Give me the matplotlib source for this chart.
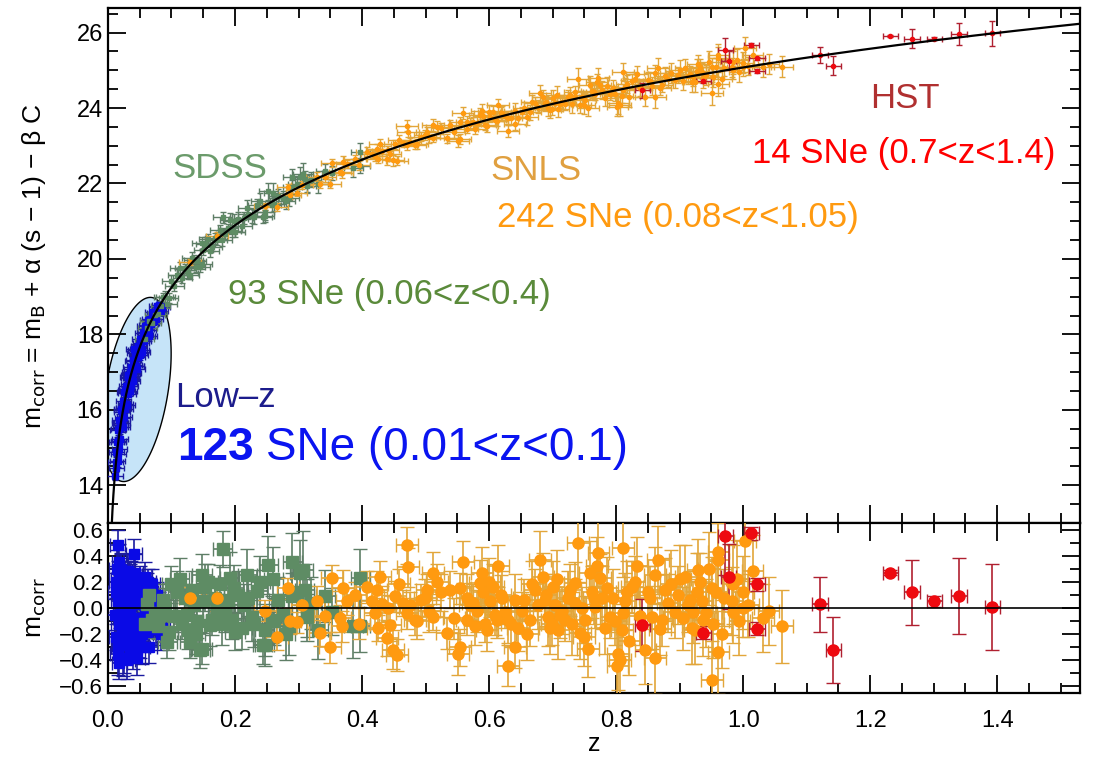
import numpy as np
import matplotlib.pyplot as plt
from matplotlib.patches import Polygon

plt.rcParams['font.family'] = ['Liberation Sans', 'DejaVu Sans']

# residuals (z, m_corr - model, error)
lowz_z = [0.011, 0.012, 0.013, 0.014, 0.015, 0.015, 0.016, 0.017, 0.017, 0.018,
          0.019, 0.019, 0.020, 0.021, 0.022, 0.022, 0.023, 0.024, 0.025, 0.026,
          0.027, 0.028, 0.029, 0.030, 0.031, 0.032, 0.033, 0.034, 0.035, 0.036,
          0.037, 0.038, 0.039, 0.040, 0.041, 0.042, 0.043, 0.044, 0.045, 0.046,
          0.048, 0.049, 0.050, 0.051, 0.052, 0.054, 0.055, 0.056, 0.058, 0.059,
          0.060, 0.062, 0.063, 0.065, 0.066, 0.068, 0.070, 0.072, 0.073, 0.075,
          0.077, 0.079, 0.081, 0.083, 0.085,
          0.013, 0.016, 0.018, 0.020, 0.021, 0.023, 0.024, 0.026, 0.027, 0.028,
          0.029, 0.031, 0.032, 0.033, 0.034, 0.035, 0.036, 0.038, 0.039, 0.040,
          0.042, 0.044, 0.046, 0.047, 0.049, 0.053, 0.057, 0.061, 0.064, 0.067]
lowz_r = [-0.05, 0.12, -0.22, 0.30, 0.48, -0.35, 0.05, -0.12, 0.22, -0.42,
          0.15, -0.28, 0.02, 0.26, -0.18, 0.10, -0.38, 0.20, -0.06, 0.28,
          -0.25, 0.08, 0.18, -0.40, -0.10, 0.25, 0.12, -0.30, -0.02, 0.22,
          -0.15, 0.05, -0.34, 0.15, 0.41, -0.08, 0.27, -0.20, 0.06, -0.38,
          0.12, -0.12, 0.22, -0.26, 0.03, -0.30, 0.16, -0.10, 0.24, -0.04,
          0.08, -0.18, 0.20, -0.30, 0.12, -0.06, 0.18, -0.12, 0.05, -0.16,
          0.10, -0.08, 0.02, -0.20, -0.15,
          0.20, -0.30, 0.35, -0.08, 0.30, -0.15, 0.02, -0.38, 0.25, -0.20,
          0.12, 0.28, -0.25, -0.05, 0.22, 0.10, -0.28, -0.10, 0.18, -0.18,
          0.25, -0.22, 0.14, -0.12, 0.05, -0.20, 0.10, 0.15, -0.10, -0.05]
lowz_e = [0.12, 0.15, 0.10, 0.14, 0.12, 0.16, 0.10, 0.12, 0.14, 0.12,
          0.10, 0.13, 0.11, 0.15, 0.12, 0.10, 0.14, 0.12, 0.10, 0.13,
          0.12, 0.10, 0.11, 0.14, 0.12, 0.13, 0.10, 0.12, 0.11, 0.14,
          0.10, 0.12, 0.13, 0.11, 0.12, 0.10, 0.14, 0.12, 0.10, 0.13,
          0.11, 0.12, 0.10, 0.12, 0.11, 0.13, 0.10, 0.12, 0.11, 0.10,
          0.12, 0.11, 0.10, 0.12, 0.11, 0.10, 0.12, 0.11, 0.10, 0.12,
          0.10, 0.11, 0.10, 0.12, 0.11,
          0.12, 0.10, 0.14, 0.11, 0.12, 0.10, 0.13, 0.12, 0.11, 0.10,
          0.12, 0.13, 0.11, 0.10, 0.12, 0.11, 0.13, 0.10, 0.12, 0.11,
          0.10, 0.12, 0.11, 0.10, 0.12, 0.11, 0.10, 0.12, 0.11, 0.10]

sdss_z = [0.058, 0.062, 0.069, 0.074, 0.083, 0.090, 0.093, 0.100, 0.109, 0.117,
          0.121, 0.126, 0.129, 0.135, 0.140, 0.145, 0.148, 0.148, 0.153, 0.158,
          0.164, 0.168, 0.172, 0.180, 0.181, 0.189, 0.192, 0.195, 0.200, 0.205,
          0.211, 0.219, 0.220, 0.227, 0.235, 0.244, 0.247, 0.247, 0.252, 0.258,
          0.260, 0.268, 0.275, 0.280, 0.290, 0.290, 0.302, 0.307, 0.310, 0.313,
          0.313, 0.320, 0.331, 0.342, 0.352, 0.386, 0.397, 0.397,
          0.065, 0.078, 0.087, 0.096, 0.104, 0.113, 0.124, 0.132, 0.138, 0.150,
          0.160, 0.176, 0.185, 0.198, 0.214, 0.230, 0.240, 0.262, 0.285, 0.298]
sdss_r = [-0.12, 0.03, -0.09, -0.04, -0.05, 0.00, -0.26, 0.18, 0.12, -0.12,
          0.08, -0.17, -0.26, 0.02, -0.10, -0.32, 0.25, -0.31, 0.16, 0.20,
          -0.09, 0.08, -0.02, -0.12, 0.45, 0.06, 0.23, -0.09, -0.18, 0.10,
          -0.15, 0.25, 0.08, -0.07, 0.13, -0.28, -0.17, -0.28, 0.33, -0.09,
          0.22, 0.06, -0.05, -0.20, 0.35, 0.09, 0.27, 0.29, 0.14, 0.00,
          -0.07, 0.04, -0.17, 0.09, -0.03, -0.14, 0.23, -0.14,
          0.10, -0.14, 0.06, -0.18, -0.06, 0.22, -0.05, 0.14, -0.20, 0.05,
          -0.13, 0.18, -0.04, 0.15, 0.02, -0.12, 0.20, -0.10, -0.14, 0.12]
sdss_e = [0.10, 0.12, 0.14, 0.10, 0.12, 0.15, 0.12, 0.14, 0.16, 0.12,
          0.10, 0.14, 0.12, 0.15, 0.13, 0.14, 0.16, 0.12, 0.18, 0.14,
          0.12, 0.15, 0.13, 0.16, 0.14, 0.12, 0.20, 0.15, 0.14, 0.18,
          0.16, 0.20, 0.14, 0.18, 0.16, 0.15, 0.20, 0.16, 0.22, 0.18,
          0.25, 0.18, 0.16, 0.20, 0.22, 0.18, 0.25, 0.30, 0.20, 0.22,
          0.18, 0.20, 0.22, 0.20, 0.18, 0.24, 0.22, 0.20,
          0.12, 0.10, 0.12, 0.14, 0.12, 0.16, 0.12, 0.14, 0.15, 0.14,
          0.16, 0.15, 0.14, 0.18, 0.16, 0.18, 0.20, 0.18, 0.22, 0.20]

snls_z = [0.129, 0.172, 0.247, 0.266, 0.283, 0.287, 0.297, 0.329, 0.334, 0.350,
          0.353, 0.365, 0.368, 0.370, 0.376, 0.408, 0.415, 0.420, 0.423, 0.425,
          0.428, 0.439, 0.441, 0.444, 0.449, 0.452, 0.455, 0.465, 0.471, 0.471,
          0.472, 0.476, 0.483, 0.499, 0.502, 0.512, 0.512, 0.518, 0.534, 0.539,
          0.551, 0.554, 0.554, 0.559, 0.565, 0.565, 0.575, 0.581, 0.586, 0.589,
          0.591, 0.594, 0.597, 0.602, 0.606, 0.613, 0.614, 0.620, 0.625, 0.630,
          0.630, 0.641, 0.641, 0.646, 0.652, 0.665, 0.668, 0.672, 0.680, 0.685,
          0.688, 0.693, 0.699, 0.701, 0.704, 0.709, 0.715, 0.720, 0.724, 0.731,
          0.735, 0.735, 0.740, 0.743, 0.751, 0.756, 0.759, 0.762, 0.767, 0.770,
          0.772, 0.775, 0.778, 0.783, 0.791, 0.795, 0.802, 0.803, 0.806, 0.809,
          0.811, 0.811, 0.817, 0.825, 0.833, 0.846, 0.850, 0.857, 0.861, 0.861,
          0.866, 0.872, 0.877, 0.882, 0.893, 0.901, 0.909, 0.917, 0.920, 0.921,
          0.924, 0.927, 0.929, 0.932, 0.935, 0.937, 0.951, 0.951, 0.953, 0.961,
          0.961, 0.961, 0.983, 0.984, 0.984, 1.000, 1.000, 1.003, 1.031, 1.061,
          0.305, 0.342, 0.389, 0.395, 0.432, 0.458, 0.487, 0.493, 0.505, 0.525,
          0.545, 0.570, 0.578, 0.600, 0.610, 0.618, 0.635, 0.655, 0.660, 0.677,
          0.690, 0.696, 0.707, 0.712, 0.727, 0.746, 0.749, 0.765, 0.786, 0.798,
          0.814, 0.820, 0.829, 0.838, 0.853, 0.869, 0.886, 0.897, 0.905, 0.913,
          0.942, 0.946, 0.958, 0.966, 0.970, 0.990, 0.994, 1.008, 1.015, 1.040]
snls_r = [0.08, 0.08, -0.02, -0.22, 0.15, -0.10, -0.11, 0.05, -0.19, -0.30,
          0.23, -0.08, -0.14, 0.15, 0.05, 0.16, 0.05, -0.04, 0.14, -0.15,
          0.24, -0.23, 0.00, -0.13, -0.32, 0.09, -0.36, 0.04, 0.48, -0.04,
          0.31, 0.02, -0.09, 0.08, 0.14, -0.07, 0.27, 0.20, -0.19, 0.14,
          -0.35, 0.15, -0.30, 0.35, 0.08, -0.09, 0.04, -0.02, 0.19, 0.27,
          0.12, -0.12, -0.17, 0.05, 0.16, -0.09, 0.32, 0.08, -0.03, -0.09,
          -0.44, 0.06, -0.30, -0.15, -0.02, -0.09, 0.18, 0.14, 0.37, 0.24,
          0.06, -0.07, -0.12, 0.16, 0.02, -0.17, -0.02, -0.09, 0.08, -0.12,
          0.04, 0.19, 0.50, -0.19, -0.09, -0.31, 0.27, 0.12, 0.01, 0.32,
          0.42, 0.23, 0.08, -0.15, -0.07, 0.08, -0.44, -0.35, -0.40, -0.17,
          0.46, -0.04, 0.12, 0.16, 0.32, -0.32, 0.12, -0.07, -0.38, 0.25,
          0.37, -0.09, 0.14, 0.04, -0.03, 0.22, 0.24, 0.06, -0.15, -0.03,
          -0.17, 0.12, 0.29, 0.20, 0.05, -0.09, 0.15, -0.55, -0.12, 0.43,
          0.37, -0.34, 0.05, 0.18, -0.03, 0.12, 0.00, 0.51, -0.08, -0.14,
          0.02, -0.06, 0.10, -0.12, 0.03, 0.18, -0.10, 0.06, -0.02, 0.12,
          -0.08, 0.02, -0.14, 0.20, -0.05, 0.10, -0.12, 0.06, -0.20, 0.02,
          0.10, -0.15, 0.22, -0.05, 0.14, 0.00, -0.22, 0.08, 0.15, -0.10,
          0.05, -0.25, 0.20, -0.06, 0.08, -0.16, 0.18, 0.10, -0.08, 0.02,
          -0.04, 0.30, 0.12, -0.20, 0.08, 0.22, -0.10, 0.02, 0.28, -0.02]
snls_e = [0.08, 0.10, 0.08, 0.10, 0.08, 0.10, 0.08, 0.12, 0.10, 0.12,
          0.10, 0.10, 0.12, 0.14, 0.10, 0.12, 0.10, 0.12, 0.14, 0.10,
          0.12, 0.14, 0.10, 0.12, 0.15, 0.12, 0.12, 0.10, 0.14, 0.12,
          0.15, 0.10, 0.12, 0.14, 0.12, 0.10, 0.16, 0.14, 0.12, 0.14,
          0.16, 0.12, 0.14, 0.16, 0.18, 0.12, 0.14, 0.16, 0.18, 0.20,
          0.15, 0.14, 0.16, 0.12, 0.18, 0.14, 0.16, 0.20, 0.12, 0.18,
          0.16, 0.20, 0.16, 0.18, 0.14, 0.20, 0.18, 0.16, 0.22, 0.18,
          0.20, 0.22, 0.16, 0.20, 0.14, 0.22, 0.18, 0.16, 0.20, 0.24,
          0.18, 0.16, 0.30, 0.20, 0.18, 0.22, 0.24, 0.20, 0.16, 0.22,
          0.26, 0.18, 0.24, 0.20, 0.16, 0.22, 0.26, 0.28, 0.30, 0.20,
          0.22, 0.18, 0.24, 0.20, 0.22, 0.26, 0.20, 0.24, 0.28, 0.22,
          0.26, 0.20, 0.24, 0.22, 0.20, 0.26, 0.24, 0.22, 0.28, 0.24,
          0.26, 0.30, 0.24, 0.22, 0.26, 0.28, 0.24, 0.30, 0.26, 0.30,
          0.28, 0.32, 0.26, 0.30, 0.24, 0.28, 0.22, 0.30, 0.26, 0.28,
          0.10, 0.12, 0.10, 0.12, 0.14, 0.12, 0.14, 0.12, 0.16, 0.14,
          0.16, 0.15, 0.14, 0.18, 0.16, 0.15, 0.18, 0.16, 0.20, 0.18,
          0.16, 0.20, 0.22, 0.18, 0.20, 0.16, 0.22, 0.20, 0.24, 0.18,
          0.22, 0.26, 0.20, 0.22, 0.24, 0.20, 0.26, 0.22, 0.24, 0.20,
          0.26, 0.28, 0.24, 0.26, 0.22, 0.30, 0.26, 0.24, 0.28, 0.26]

hst_z = [0.841, 0.937, 0.972, 0.977, 1.013, 1.022, 1.022, 1.121, 1.142, 1.232,
         1.266, 1.301, 1.340, 1.392]
hst_r = [-0.13, -0.19, 0.55, 0.24, 0.57, 0.18, -0.16, 0.03, -0.32, 0.27,
         0.12, 0.05, 0.09, 0.01]
hst_e = [0.20, 0.05, 0.30, 0.25, 0.05, 0.05, 0.05, 0.21, 0.25, 0.02,
         0.25, 0.04, 0.29, 0.33]

# flat LCDM model used for the Hubble diagram
om = 0.26
M0 = 24.08
zz = np.linspace(0, 1.6, 3201)
Ez = np.sqrt(om * (1 + zz) ** 3 + 1 - om)
dc = np.concatenate([[0], np.cumsum(0.5 * (1 / Ez[1:] + 1 / Ez[:-1]) * np.diff(zz))])
zc = zz[4:]
mc = 5 * np.log10((1 + zc) * dc[4:]) + M0


def model(z):
    return np.interp(z, zc, mc)


# data, marker, face colour, error colour, x error, top / bottom marker size
samples = [
    (lowz_z, lowz_r, lowz_e, 's', '#0a0ae6', '#1a1aa0', 0.012, 4, 7),
    (sdss_z, sdss_r, sdss_e, 's', '#5e8c64', '#5e7e66', 0.015, 3.5, 8.5),
    (snls_z, snls_r, snls_e, 'o', '#ff9a10', '#e2a63a', 0.017, 3, 8),
    (hst_z, hst_r, hst_e, 'o', '#ee0a10', '#b02030', 0.012, 3, 8),
]

fig = plt.figure(figsize=(10.94, 7.65), dpi=100)
ax1 = fig.add_axes([0.0987, 0.3163, 0.8883, 0.6732])
ax2 = fig.add_axes([0.0987, 0.0941, 0.8883, 0.2222])

# ellipse round the low-z sample
t = np.linspace(0, 2 * np.pi, 200)
cz, cm = 0.0457, 16.54
ex = cz + 0.0236 * np.cos(t) + 0.0483 * np.sin(t)
ey = cm + 2.437 * np.cos(t) - 0.132 * np.sin(t)
ax1.add_patch(Polygon(np.column_stack([ex, ey]), closed=True, facecolor='#c6e4f8',
                      edgecolor='black', lw=1, zorder=1))

ax1.plot(zc, mc, color='black', lw=1.6, zorder=5)
for z, r, e, mk, c, ec, xe, ms1, ms2 in samples:
    z = np.array(z)
    m = model(z) + np.array(r)
    ax1.errorbar(z, m, yerr=e, xerr=xe, fmt=mk, ms=ms1, color=c, ecolor=ec,
                 elinewidth=1, capsize=2, zorder=3)
    ax2.errorbar(z, r, yerr=e, xerr=xe, fmt=mk, ms=ms2, color=c, ecolor=ec,
                 elinewidth=1.2, capsize=5, zorder=3)
ax2.axhline(0, color='black', lw=1.2, zorder=5)

ax1.set_xlim(0, 1.53)
ax1.set_ylim(13.0, 26.65)
ax2.set_xlim(0, 1.53)
ax2.set_ylim(-0.65, 0.65)

for ax in (ax1, ax2):
    ax.tick_params(which='both', direction='in', top=True, right=True,
                   labelsize=17, width=1.3)
    ax.tick_params(which='major', length=13)
    ax.tick_params(which='minor', length=7)
    ax.set_xticks(np.arange(0, 1.5, 0.2))
    ax.set_xticks(np.arange(0, 1.55, 0.05), minor=True)
    for s in ax.spines.values():
        s.set_linewidth(1.6)
ax1.set_xticklabels([])
ax1.set_yticks([14, 16, 18, 20, 22, 24, 26])
ax1.set_yticks(np.arange(13, 26.7, 0.5), minor=True)
ax2.set_yticks(np.round(np.arange(-0.6, 0.61, 0.2), 1))
ax2.set_yticks(np.arange(-0.6, 0.61, 0.1), minor=True)
ax2.set_yticklabels(['\u22120.6', '\u22120.4', '\u22120.2', '0.0', '0.2', '0.4', '0.6'],
                    fontsize=16)
ax2.set_xticklabels(['0.0', '0.2', '0.4', '0.6', '0.8', '1.0', '1.2', '1.4'])
ax2.tick_params(axis='x', pad=12)

ax1.set_ylabel('m$_{\\rm corr}$ = m$_{\\rm B}$ + \u03b1 (s \u2212 1) \u2212 \u03b2 C', fontsize=19)
ax1.yaxis.set_label_coords(-0.062, 0.5)
ax2.set_ylabel('m$_{\\rm corr}$', fontsize=19)
ax2.yaxis.set_label_coords(-0.062, 0.5)
ax2.set_xlabel('z', fontsize=18, labelpad=0)


def px(x, y):
    return x / 1094, 1 - y / 765


fig.text(*px(172, 168), 'SDSS', color='#6b9b6b', fontsize=25, va='center')
fig.text(*px(228, 295), '93 SNe (0.06<z<0.4)', color='#5a8a3a', fontsize=25, va='center')
fig.text(*px(490, 170), 'SNLS', color='#e0a040', fontsize=25, va='center')
fig.text(*px(497, 218), '242 SNe (0.08<z<1.05)', color='#ff9a10', fontsize=25, va='center')
fig.text(*px(870, 99), 'HST', color='#b03030', fontsize=25, va='center')
fig.text(*px(752, 153), '14 SNe (0.7<z<1.4)', color='#ff0000', fontsize=25, va='center')
fig.text(*px(175, 397), 'Low\u2013z', color='#1c1c8c', fontsize=25, va='center')
fig.text(*px(177, 448), '123', color='#0a14f0', fontsize=33, fontweight='bold', va='center')
fig.text(*px(266, 448), 'SNe (0.01<z<0.1)', color='#0a14f0', fontsize=33, va='center')

fig.savefig('out.png', dpi=100)
